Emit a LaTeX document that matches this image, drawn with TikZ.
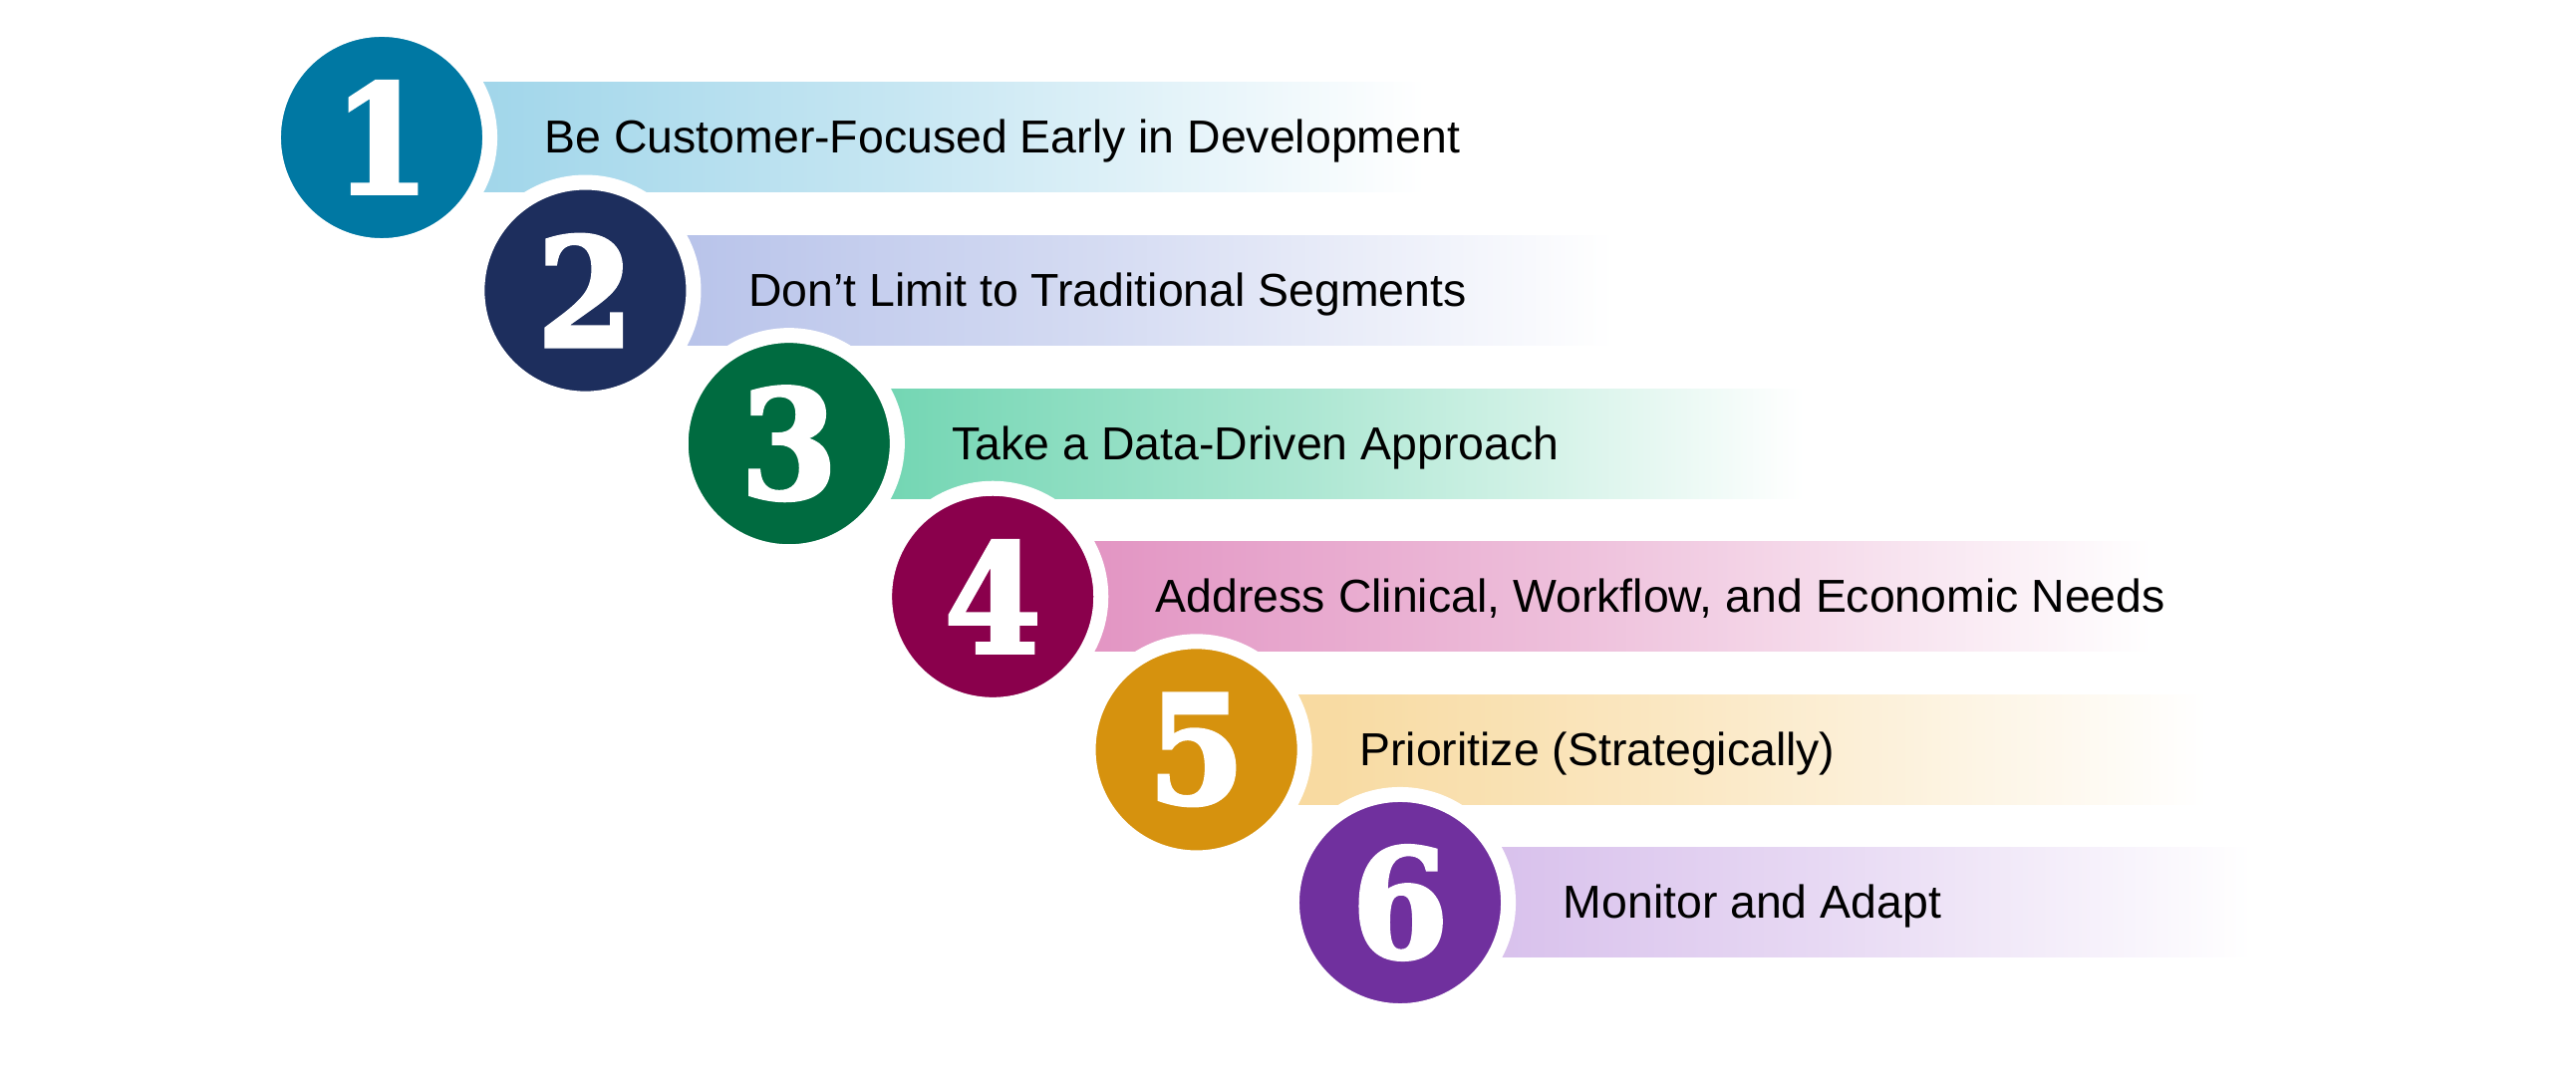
\documentclass[tikz,border=0pt]{standalone}
\usepackage{fontspec}
\setmainfont{Liberation Sans}
\newfontfamily\numfont{DejaVu Serif}[BoldFeatures={FakeBold=2.5,FakeStretch=0.92}]
\usepackage{tikz}
\usetikzlibrary{calc,positioning}
\definecolor{stepone}{RGB}{0,120,163}
\definecolor{steptwo}{RGB}{29,46,93}
\definecolor{stepthree}{RGB}{0,107,64}
\definecolor{stepfour}{RGB}{138,0,76}
\definecolor{stepfive}{RGB}{214,146,14}
\definecolor{stepsix}{RGB}{112,48,158}
\definecolor{bandone}{RGB}{152,210,232}
\definecolor{bandtwo}{RGB}{178,190,232}
\definecolor{bandthree}{RGB}{102,210,172}
\definecolor{bandfour}{RGB}{224,140,190}
\definecolor{bandfive}{RGB}{247,214,150}
\definecolor{bandsix}{RGB}{212,186,234}
\tikzset{numdisc/.style={circle,draw=white,line width=.15cm,minimum size=2.17cm,inner sep=0pt,
    text=white,font=\numfont\bfseries\fontsize{43}{43}\selectfont}}

\begin{document}
\begin{tikzpicture}[x=.01cm,y=.01cm,font=\fontsize{13.2}{16}\selectfont]
    \useasboundingbox (0,0) rectangle (2585,1091);
    \foreach \i/\tone/\tband/\tend/\tlabel in {
        1/stepone/bandone/1430/{Be Customer-Focused Early in Development},
        2/steptwo/bandtwo/1620/{Don’t Limit to Traditional Segments},
        3/stepthree/bandthree/1810/{Take a Data-Driven Approach},
        4/stepfour/bandfour/2160/{Address Clinical, Workflow, and Economic Needs},
        5/stepfive/bandfive/2215/{Prioritize (Strategically)},
        6/stepsix/bandsix/2260/{Monitor and Adapt}}{
      \coordinate (c\i) at ({383+204.4*(\i-1)},{953-153.6*(\i-1)});
      \shade[left color=\tband,right color=white,middle color=\tband!55!white]
        ($(c\i)+(0,-55)$) rectangle (\tend,{953-153.6*(\i-1)+55});
      \node[numdisc,fill=\tone] (n\i) at (c\i) {\i};
      \node[anchor=base west,inner sep=0pt] (t\i) at ($(c\i)+(163,-16)$) {\tlabel};
    }
  \end{tikzpicture}
\end{document}
